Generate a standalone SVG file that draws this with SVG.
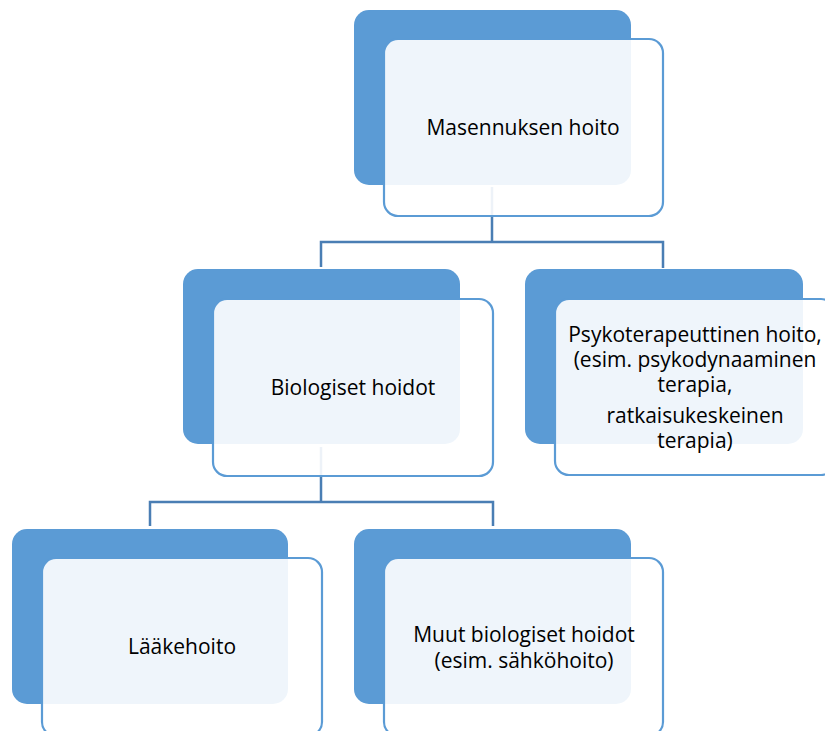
<svg xmlns="http://www.w3.org/2000/svg" width="825" height="731" viewBox="0 0 825 731">
<style>
.back{fill:#5b9bd5;}
.front{fill:#ffffff;fill-opacity:0.9;stroke:#5b9bd5;stroke-width:2.2;}
.conn{fill:none;stroke:#4a7eb4;stroke-width:2.5;}
text{font-family:"Open Sans","Noto Sans","Liberation Sans",sans-serif;font-size:21px;fill:#000;text-anchor:middle;dominant-baseline:central;}
</style>
<rect width="825" height="731" fill="#ffffff"/>
<g id="connectors">
<path class="conn" d="M492 187V242M321 267V242H663V268"/>
<path class="conn" d="M321 447V502M150 526V502H493V526"/>
</g>
<g id="node-masennuksen-hoito">
<rect class="back" x="354" y="10" width="277" height="175" rx="15"/>
<rect class="front" x="384" y="39" width="279" height="177" rx="14"/>
<text x="523" y="127">Masennuksen hoito</text>
</g>
<g id="node-biologiset-hoidot">
<rect class="back" x="183" y="269" width="277" height="175" rx="15"/>
<rect class="front" x="213" y="299" width="280" height="177" rx="14"/>
<text x="353" y="387">Biologiset hoidot</text>
</g>
<g id="node-psykoterapeuttinen">
<rect class="back" x="525" y="269" width="278" height="175" rx="15"/>
<rect class="front" x="555" y="299" width="280" height="176" rx="14"/>
<text x="695" y="334">Psykoterapeuttinen hoito,</text>
<text x="695" y="359">(esim. psykodynaaminen</text>
<text x="695" y="384">terapia,</text>
<text x="695" y="415">ratkaisukeskeinen</text>
<text x="695" y="440">terapia)</text>
</g>
<g id="node-laakehoito">
<rect class="back" x="12" y="529" width="276" height="175" rx="15"/>
<rect class="front" x="42" y="558" width="280" height="178" rx="14"/>
<text x="182" y="646">Lääkehoito</text>
</g>
<g id="node-muut-biologiset">
<rect class="back" x="354" y="529" width="277" height="175" rx="15"/>
<rect class="front" x="384" y="558" width="279" height="178" rx="14"/>
<text x="524" y="634">Muut biologiset hoidot</text>
<text x="524" y="660">(esim. sähköhoito)</text>
</g>
</svg>
